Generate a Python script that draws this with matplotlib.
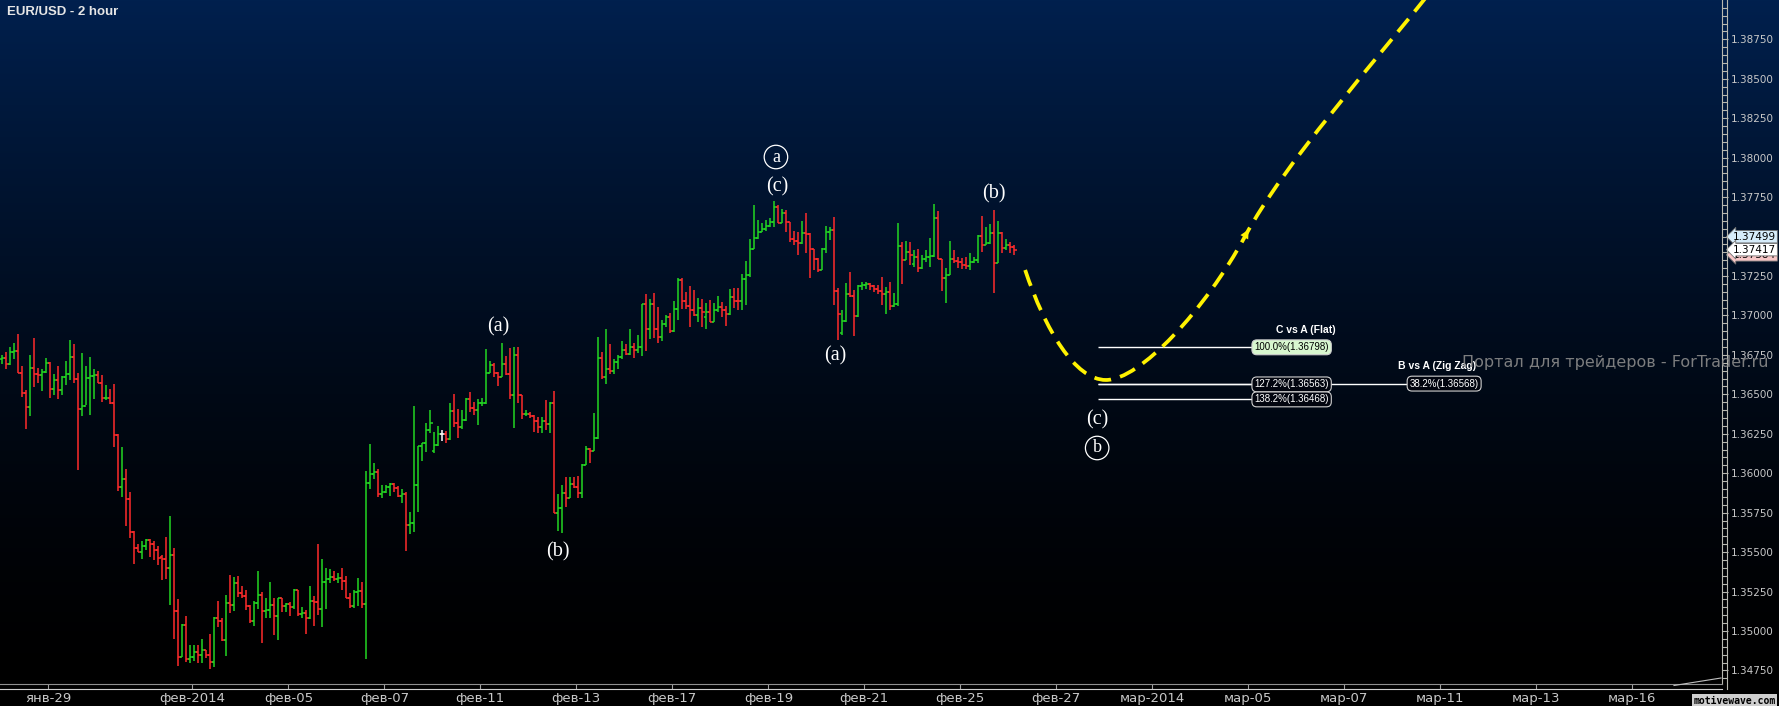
import numpy as np
import matplotlib.pyplot as plt
from matplotlib import font_manager
from matplotlib.collections import LineCollection
from matplotlib.lines import Line2D
from matplotlib.path import Path
from matplotlib.patches import PathPatch
from matplotlib.ticker import MultipleLocator, FormatStrFormatter

# EUR/USD 2h bars
opens = [1.36722, 1.36732, 1.36692, 1.36766, 1.36775, 1.36633, 1.36506, 1.36418, 1.36665, 1.36629,
         1.36622, 1.36644, 1.36701, 1.36534, 1.36591, 1.36525, 1.36612, 1.36629, 1.36734, 1.36597,
         1.36405, 1.36424, 1.36603, 1.36614, 1.36622, 1.36574, 1.36475, 1.36479, 1.36443, 1.36242,
         1.35915, 1.35961, 1.35837, 1.35630, 1.35524, 1.35499, 1.35539, 1.35575, 1.35549, 1.35513,
         1.35467, 1.35454, 1.35397, 1.35482, 1.35127, 1.34833, 1.35038, 1.34823, 1.34837, 1.34867,
         1.34848, 1.34880, 1.34848, 1.34804, 1.35085, 1.35061, 1.34943, 1.35176, 1.35165, 1.35302,
         1.35243, 1.35222, 1.35159, 1.35066, 1.35176, 1.35230, 1.35127, 1.35133, 1.35165, 1.35095,
         1.35211, 1.35159, 1.35171, 1.35154, 1.35260, 1.35108, 1.35112, 1.35085, 1.35190, 1.35182,
         1.35137, 1.35309, 1.35332, 1.35345, 1.35332, 1.35334, 1.35317, 1.35207, 1.35159, 1.35250,
         1.35254, 1.35171, 1.35936, 1.35993, 1.36006, 1.35866, 1.35883, 1.35911, 1.35932, 1.35909,
         1.35858, 1.35866, 1.35670, 1.35683, 1.35923, 1.36173, 1.36190, 1.36272, 1.36143, 1.36179,
         1.36249, 1.36249, 1.36215, 1.36395, 1.36321, 1.36295, 1.36337, 1.36468, 1.36416, 1.36401,
         1.36443, 1.36447, 1.36637, 1.36686, 1.36633, 1.36608, 1.36690, 1.36629, 1.36496, 1.36749,
         1.36496, 1.36373, 1.36378, 1.36363, 1.36333, 1.36291, 1.36331, 1.36312, 1.36443, 1.35750,
         1.35778, 1.35873, 1.35845, 1.35930, 1.35915, 1.35873, 1.36052, 1.36154, 1.36143, 1.36221,
         1.36728, 1.36612, 1.36659, 1.36646, 1.36703, 1.36739, 1.36781, 1.36754, 1.36798, 1.36781,
         1.36798, 1.37073, 1.36912, 1.37073, 1.36912, 1.36866, 1.36944, 1.36988, 1.36902, 1.37039,
         1.37225, 1.37092, 1.37060, 1.37035, 1.37003, 1.37049, 1.36992, 1.37020, 1.36956, 1.37034,
         1.37056, 1.37034, 1.37009, 1.37119, 1.37094, 1.37092, 1.37229, 1.37256, 1.37421, 1.37489,
         1.37531, 1.37546, 1.37569, 1.37594, 1.37685, 1.37588, 1.37647, 1.37590, 1.37482, 1.37474,
         1.37457, 1.37525, 1.37516, 1.37421, 1.37356, 1.37288, 1.37419, 1.37531, 1.37541, 1.37155,
         1.36887, 1.36965, 1.37136, 1.37123, 1.36999, 1.37189, 1.37193, 1.37199, 1.37187, 1.37165,
         1.37157, 1.37134, 1.37149, 1.37062, 1.37070, 1.37442, 1.37351, 1.37404, 1.37324, 1.37372,
         1.37299, 1.37356, 1.37368, 1.37377, 1.37615, 1.37356, 1.37239, 1.37256, 1.37356, 1.37347,
         1.37341, 1.37320, 1.37315, 1.37341, 1.37351, 1.37503, 1.37446, 1.37457, 1.37520, 1.37330,
         1.37525, 1.37430, 1.37446, 1.37432]
highs = [1.36751, 1.36766, 1.36800, 1.36825, 1.36882, 1.36680, 1.36527, 1.36749, 1.36857, 1.36669,
         1.36663, 1.36730, 1.36705, 1.36629, 1.36680, 1.36614, 1.36711, 1.36844, 1.36819, 1.36633,
         1.36764, 1.36680, 1.36737, 1.36658, 1.36650, 1.36622, 1.36559, 1.36532, 1.36565, 1.36249,
         1.36168, 1.36027, 1.35881, 1.35636, 1.35552, 1.35568, 1.35583, 1.35583, 1.35573, 1.35541,
         1.35482, 1.35596, 1.35729, 1.35526, 1.35203, 1.35044, 1.35097, 1.34911, 1.34911, 1.34909,
         1.34949, 1.34880, 1.34981, 1.35091, 1.35190, 1.35080, 1.35228, 1.35355, 1.35345, 1.35349,
         1.35285, 1.35260, 1.35165, 1.35190, 1.35383, 1.35245, 1.35211, 1.35311, 1.35207, 1.35211,
         1.35211, 1.35180, 1.35186, 1.35266, 1.35260, 1.35150, 1.35133, 1.35285, 1.35222, 1.35552,
         1.35459, 1.35397, 1.35395, 1.35380, 1.35370, 1.35397, 1.35349, 1.35243, 1.35260, 1.35334,
         1.35313, 1.36016, 1.36185, 1.36063, 1.36027, 1.35926, 1.35926, 1.35936, 1.35940, 1.35919,
         1.35900, 1.35879, 1.35752, 1.36426, 1.36173, 1.36190, 1.36321, 1.36401, 1.36264, 1.36299,
         1.36274, 1.36270, 1.36443, 1.36502, 1.36407, 1.36401, 1.36479, 1.36513, 1.36454, 1.36468,
         1.36479, 1.36787, 1.36711, 1.36701, 1.36644, 1.36823, 1.36743, 1.36792, 1.36798, 1.36798,
         1.36496, 1.36401, 1.36390, 1.36369, 1.36354, 1.36359, 1.36464, 1.36449, 1.36521, 1.35866,
         1.35926, 1.35978, 1.35978, 1.35978, 1.35983, 1.36057, 1.36173, 1.36158, 1.36380, 1.36866,
         1.36771, 1.36914, 1.36819, 1.36722, 1.36749, 1.36838, 1.36819, 1.36912, 1.36823, 1.36876,
         1.37073, 1.37136, 1.37102, 1.37144, 1.37056, 1.36971, 1.37003, 1.37013, 1.37094, 1.37235,
         1.37235, 1.37151, 1.37187, 1.37161, 1.37108, 1.37102, 1.37077, 1.37098, 1.37081, 1.37123,
         1.37087, 1.37062, 1.37168, 1.37172, 1.37172, 1.37260, 1.37347, 1.37482, 1.37700, 1.37605,
         1.37584, 1.37605, 1.37615, 1.37727, 1.37700, 1.37672, 1.37668, 1.37594, 1.37537, 1.37531,
         1.37599, 1.37651, 1.37520, 1.37421, 1.37362, 1.37430, 1.37567, 1.37563, 1.37626, 1.37172,
         1.37034, 1.37204, 1.37277, 1.37161, 1.37193, 1.37210, 1.37210, 1.37204, 1.37193, 1.37193,
         1.37246, 1.37178, 1.37214, 1.37144, 1.37584, 1.37468, 1.37472, 1.37468, 1.37415, 1.37419,
         1.37383, 1.37415, 1.37489, 1.37706, 1.37664, 1.37356, 1.37299, 1.37472, 1.37415, 1.37368,
         1.37362, 1.37368, 1.37394, 1.37368, 1.37510, 1.37630, 1.37558, 1.37580, 1.37668, 1.37599,
         1.37531, 1.37482, 1.37468, 1.37446]
lows = [1.36690, 1.36658, 1.36686, 1.36722, 1.36633, 1.36485, 1.36282, 1.36363, 1.36549, 1.36574,
        1.36523, 1.36637, 1.36479, 1.36498, 1.36470, 1.36494, 1.36559, 1.36591, 1.36574, 1.36023,
        1.36365, 1.36430, 1.36371, 1.36470, 1.36570, 1.36449, 1.36464, 1.36437, 1.36168, 1.35890,
        1.35851, 1.35668, 1.35592, 1.35427, 1.35499, 1.35454, 1.35513, 1.35467, 1.35450, 1.35418,
        1.35321, 1.35328, 1.35165, 1.34947, 1.34780, 1.34833, 1.34806, 1.34799, 1.34812, 1.34795,
        1.34795, 1.34827, 1.34761, 1.34774, 1.35028, 1.34939, 1.34844, 1.35112, 1.35127, 1.35214,
        1.35207, 1.35133, 1.35053, 1.35032, 1.35137, 1.34926, 1.35080, 1.35080, 1.34973, 1.34943,
        1.35123, 1.35118, 1.35095, 1.35142, 1.35097, 1.35080, 1.34983, 1.35074, 1.35034, 1.35102,
        1.35028, 1.35142, 1.35302, 1.35319, 1.35302, 1.35260, 1.35207, 1.35148, 1.35144, 1.35161,
        1.35144, 1.34821, 1.35898, 1.35961, 1.35847, 1.35841, 1.35873, 1.35858, 1.35883, 1.35852,
        1.35809, 1.35509, 1.35613, 1.35630, 1.35757, 1.36080, 1.36137, 1.36253, 1.36130, 1.36173,
        1.36206, 1.36194, 1.36211, 1.36295, 1.36221, 1.36280, 1.36333, 1.36390, 1.36369, 1.36306,
        1.36426, 1.36439, 1.36633, 1.36608, 1.36553, 1.36608, 1.36623, 1.36468, 1.36289, 1.36447,
        1.36344, 1.36365, 1.36348, 1.36259, 1.36257, 1.36253, 1.36274, 1.36253, 1.35750, 1.35636,
        1.35619, 1.35784, 1.35841, 1.35904, 1.35845, 1.35845, 1.36052, 1.36067, 1.36143, 1.36215,
        1.36597, 1.36566, 1.36629, 1.36629, 1.36659, 1.36722, 1.36749, 1.36749, 1.36728, 1.36764,
        1.36745, 1.36777, 1.36851, 1.36855, 1.36823, 1.36838, 1.36925, 1.36891, 1.36895, 1.36971,
        1.37041, 1.37039, 1.36929, 1.36997, 1.36961, 1.36929, 1.36916, 1.36956, 1.36956, 1.37024,
        1.36992, 1.36933, 1.37005, 1.37049, 1.37034, 1.37034, 1.37066, 1.37246, 1.37421, 1.37482,
        1.37531, 1.37537, 1.37558, 1.37563, 1.37584, 1.37584, 1.37531, 1.37468, 1.37446, 1.37383,
        1.37453, 1.37394, 1.37235, 1.37288, 1.37277, 1.37288, 1.37398, 1.37478, 1.37066, 1.36844,
        1.36876, 1.36961, 1.37119, 1.36872, 1.36992, 1.37161, 1.37165, 1.37161, 1.37151, 1.37136,
        1.37066, 1.37009, 1.37034, 1.37056, 1.37060, 1.37199, 1.37351, 1.37320, 1.37309, 1.37277,
        1.37292, 1.37341, 1.37309, 1.37368, 1.37356, 1.37157, 1.37077, 1.37256, 1.37334, 1.37299,
        1.37292, 1.37292, 1.37288, 1.37330, 1.37334, 1.37404, 1.37446, 1.37453, 1.37144, 1.37330,
        1.37398, 1.37415, 1.37394, 1.37383]
closes = [1.36732, 1.36692, 1.36766, 1.36775, 1.36633, 1.36506, 1.36418, 1.36665, 1.36629, 1.36622,
          1.36644, 1.36701, 1.36534, 1.36591, 1.36525, 1.36612, 1.36629, 1.36734, 1.36597, 1.36405,
          1.36424, 1.36603, 1.36614, 1.36622, 1.36574, 1.36475, 1.36479, 1.36443, 1.36242, 1.35915,
          1.35961, 1.35837, 1.35630, 1.35524, 1.35499, 1.35539, 1.35575, 1.35549, 1.35513, 1.35461,
          1.35454, 1.35397, 1.35482, 1.35127, 1.34833, 1.35038, 1.34823, 1.34837, 1.34867, 1.34848,
          1.34880, 1.34848, 1.34804, 1.35085, 1.35061, 1.34943, 1.35176, 1.35165, 1.35302, 1.35243,
          1.35222, 1.35159, 1.35066, 1.35176, 1.35230, 1.35127, 1.35133, 1.35165, 1.35095, 1.35211,
          1.35159, 1.35171, 1.35154, 1.35260, 1.35108, 1.35112, 1.35085, 1.35190, 1.35182, 1.35137,
          1.35309, 1.35332, 1.35345, 1.35332, 1.35334, 1.35317, 1.35207, 1.35159, 1.35250, 1.35254,
          1.35171, 1.35936, 1.35993, 1.36006, 1.35866, 1.35883, 1.35911, 1.35932, 1.35909, 1.35858,
          1.35866, 1.35670, 1.35683, 1.35923, 1.36173, 1.36190, 1.36272, 1.36316, 1.36179, 1.36249,
          1.36249, 1.36215, 1.36395, 1.36321, 1.36295, 1.36337, 1.36468, 1.36416, 1.36401, 1.36443,
          1.36447, 1.36637, 1.36686, 1.36633, 1.36608, 1.36690, 1.36629, 1.36496, 1.36749, 1.36496,
          1.36373, 1.36378, 1.36363, 1.36333, 1.36291, 1.36331, 1.36312, 1.36443, 1.35750, 1.35778,
          1.35873, 1.35845, 1.35930, 1.35915, 1.35873, 1.36052, 1.36154, 1.36143, 1.36221, 1.36728,
          1.36612, 1.36659, 1.36646, 1.36703, 1.36739, 1.36781, 1.36754, 1.36798, 1.36781, 1.36798,
          1.37073, 1.36912, 1.37073, 1.36912, 1.36866, 1.36944, 1.36988, 1.36902, 1.37039, 1.37225,
          1.37092, 1.37060, 1.37035, 1.37003, 1.37049, 1.37020, 1.37020, 1.36956, 1.37034, 1.37056,
          1.37034, 1.37009, 1.37119, 1.37094, 1.37092, 1.37229, 1.37256, 1.37421, 1.37489, 1.37531,
          1.37546, 1.37569, 1.37594, 1.37685, 1.37588, 1.37647, 1.37590, 1.37482, 1.37474, 1.37457,
          1.37525, 1.37516, 1.37421, 1.37356, 1.37288, 1.37419, 1.37531, 1.37541, 1.37155, 1.37009,
          1.36965, 1.37136, 1.37123, 1.36999, 1.37189, 1.37193, 1.37199, 1.37187, 1.37165, 1.37157,
          1.37134, 1.37149, 1.37062, 1.37070, 1.37442, 1.37351, 1.37404, 1.37383, 1.37372, 1.37299,
          1.37356, 1.37368, 1.37377, 1.37615, 1.37356, 1.37239, 1.37256, 1.37356, 1.37347, 1.37341,
          1.37320, 1.37315, 1.37341, 1.37351, 1.37503, 1.37446, 1.37457, 1.37520, 1.37330, 1.37525,
          1.37430, 1.37446, 1.37432, 1.37417]

# date axis (bar positions of the day boundaries)
date_ticks = [11.5, 47.5, 71.5, 95.5, 119.5, 143.5, 167.5, 191.5, 215.5,
              239.5, 263.5, 287.5, 311.5, 335.5, 359.5, 383.5, 407.5]
date_labels = ['янв-29', 'фев-2014', 'фев-05', 'фев-07', 'фев-11', 'фев-13', 'фев-17',
               'фев-19', 'фев-21', 'фев-25', 'фев-27', 'мар-2014', 'мар-05', 'мар-07',
               'мар-11', 'мар-13', 'мар-16']

# fibonacci projections
flat_levels = [1.36798, 1.36563, 1.36468]
flat_labels = ['100.0%', '127.2%', '138.2%']
zigzag_level = 1.36568
zigzag_label = '38.2%'

# price markers on the axis
last_high, last_close, last_low = 1.37499, 1.37417, 1.37384

# projected path (bar index, price) - bezier control points
proj_pts = [(255.7, 1.37288), (260.7, 1.36908), (268.2, 1.36591), (275.9, 1.36591),
            (284.4, 1.36591), (300.7, 1.37035), (310.7, 1.37503),
            (320.7, 1.37972), (341.9, 1.38568), (359.4, 1.39126)]

W, H = 1779, 706
fig = plt.figure(figsize=(W / 100, H / 100), dpi=100)

names = {f.name for f in font_manager.fontManager.ttflist}
xfont = 'Liberation Sans Narrow' if 'Liberation Sans Narrow' in names else 'DejaVu Sans'
sans = 'Liberation Sans' if 'Liberation Sans' in names else 'DejaVu Sans'
serif = 'Liberation Serif' if 'Liberation Serif' in names else 'DejaVu Serif'

# background gradient navy -> black
bg = fig.add_axes([0, 0, 1, 1], zorder=-10)
fade = np.clip(1 - np.arange(H) / 690.0, 0, 1) ** 1.5
top = np.array([0, 32, 78]) / 255.0
bg.imshow(fade[:, None, None] * top[None, None, :], aspect='auto', extent=[0, 1, 0, 1])
bg.axis('off')

ax = fig.add_axes([0, 22 / H, 1722 / W, 684 / H])
ax.set_facecolor('none')
ax.set_xlim(-0.575, 429.9)
ax.set_ylim(1.346644, 1.38999)

# OHLC bars
green, red = '#22d622', '#ff2b2b'
segs, cols = [], []
for i, (o, h, l, c) in enumerate(zip(opens, highs, lows, closes)):
    col = green if c > o else (red if c < o else 'white')
    segs += [[(i, l), (i, h)], [(i - 0.55, o), (i, o)], [(i, c), (i + 0.55, c)]]
    cols += [col] * 3
ax.add_collection(LineCollection(segs, colors=cols, linewidths=1.1, capstyle='butt'))

# right price axis
ax.yaxis.tick_right()
ax.yaxis.set_major_locator(MultipleLocator(0.0025))
ax.yaxis.set_minor_locator(MultipleLocator(0.0005))
ax.yaxis.set_major_formatter(FormatStrFormatter('%.5f'))
ax.tick_params(axis='y', which='major', length=4.5, width=0.8, color='#b8b8b0',
               labelcolor='#c8c8c8', labelsize=7.5, pad=2)
ax.tick_params(axis='y', which='minor', length=3.6, width=0.8, color='#b8b8b0')
ax.set_xticks([])
for s in ['top', 'left', 'bottom']:
    ax.spines[s].set_visible(False)
ax.spines['right'].set_color('#b8b8b0')
ax.spines['right'].set_linewidth(0.8)
fig.add_artist(Line2D([1727 / W, 1727 / W], [17 / H, 1], color='#b8b8b0', lw=0.8))

# date strip
axd = fig.add_axes([0, 17 / H, 1722 / W, 5 / H])
axd.set_facecolor('none')
axd.set_xlim(ax.get_xlim())
axd.set_ylim(0, 1)
axd.vlines(date_ticks, 0, 1, color='#a0a0a0', lw=0.8)
axd.set_xticks(date_ticks, date_labels)
axd.tick_params(axis='x', length=0, pad=2.5, labelsize=9.5, labelcolor='#c8c8c8')
for lab in axd.get_xticklabels():
    lab.set_family(xfont)
axd.set_yticks([])
for s in ['left', 'right']:
    axd.spines[s].set_visible(False)
axd.spines['top'].set_color('#909090')
axd.spines['bottom'].set_color('#d0d0d0')
fig.add_artist(Line2D([1674 / W, 1721 / W], [1 - 685.5 / H, 1 - 678 / H], color='#c0c0c0', lw=0.8))

# projection curve
codes = [Path.MOVETO] + [Path.CURVE4] * 9
path = Path(proj_pts, codes)
ax.add_patch(PathPatch(path, fill=False, ec='#fff200', lw=2.7, ls=(0, (4.5, 2.5)), zorder=5))
ax.annotate('', xy=(311.9, 1.37560), xytext=(309.4, 1.37446),
            arrowprops=dict(arrowstyle='-|>', color='#fff200', lw=0, mutation_scale=16), zorder=6)

# fibonacci levels
for lvl, lab in zip(flat_levels, flat_labels):
    ax.hlines(lvl, 273.9, 312.4, color='white', lw=1)
    green_box = lab == '100.0%'
    ax.text(313.0, lvl, f'{lab}({lvl:.5f})', ha='left', va='center', fontsize=7, family=sans,
            color='black' if green_box else 'white', zorder=7,
            bbox=dict(boxstyle='round,pad=0.25,rounding_size=0.5',
                      fc='#d8f7cf' if green_box else '#02050f', ec='#d0d0d0', lw=0.8))
ax.hlines(zigzag_level, 273.9, 351.2, color='white', lw=1)
ax.text(351.8, zigzag_level, f'{zigzag_label}({zigzag_level:.5f})', ha='left', va='center',
        fontsize=7, family=sans, color='white', zorder=7,
        bbox=dict(boxstyle='round,pad=0.25,rounding_size=0.5', fc='#02050f', ec='#d0d0d0', lw=0.8))
ax.text(333.4, 1.36908, 'C vs A (Flat)', ha='right', va='center', fontsize=7.5,
        family=sans, fontweight='bold', color='white')
ax.text(348.9, 1.36680, 'B vs A (Zig Zag)', ha='left', va='center', fontsize=7.5,
        family=sans, fontweight='bold', color='white')

# wave labels
wave = dict(ha='center', va='center', color='white', family=serif, fontsize=14.5)
ax.text(123.9, 1.36927, '(a)', **wave)
ax.text(138.9, 1.35501, '(b)', **wave)
ax.text(193.7, 1.37814, '(c)', **wave)
ax.text(208.2, 1.36743, '(a)', **wave)
ax.text(247.9, 1.37770, '(b)', **wave)
ax.text(273.7, 1.36337, '(c)', **wave)
circ = dict(ha='center', va='center', color='white', family=serif, fontsize=13,
            bbox=dict(boxstyle='circle,pad=0.18', fc='none', ec='white', lw=0.9))
ax.text(193.4, 1.38004, 'a', **circ)
ax.text(273.7, 1.36160, 'b', **circ)

# price tags on the axis
for val, fc, z in [(last_low, '#f7c6c6', 8), (last_high, '#d6ecfa', 9), (last_close, 'white', 10)]:
    ax.text(1.0 + 11 / 1722, val, f'{val:.5f}', transform=ax.get_yaxis_transform(),
            ha='left', va='center', fontsize=7.5, color='black', zorder=z, clip_on=False,
            bbox=dict(boxstyle='larrow,pad=0.12', fc=fc, ec='#707070', lw=0.6))

fig.text(7 / W, 1 - 12 / H, 'EUR/USD - 2 hour', color='#e6e6e6', fontsize=9.5,
         fontweight='bold', family=sans, ha='left', va='center')
fig.text(1462 / W, 1 - 363 / H, 'Портал для трейдеров - ForTrader.ru', color='#8a8a8a',
         alpha=0.9, fontsize=11.5, ha='left', va='center', zorder=20)
fig.text(1776 / W, 1 - 700.5 / H, 'motivewave.com', color='black', fontsize=7,
         family='DejaVu Sans Mono', fontweight='bold', ha='right', va='center',
         bbox=dict(boxstyle='square,pad=0.15', fc='#cfcfcf', ec='none'))

fig.savefig('out.png', dpi=100, facecolor='black')
